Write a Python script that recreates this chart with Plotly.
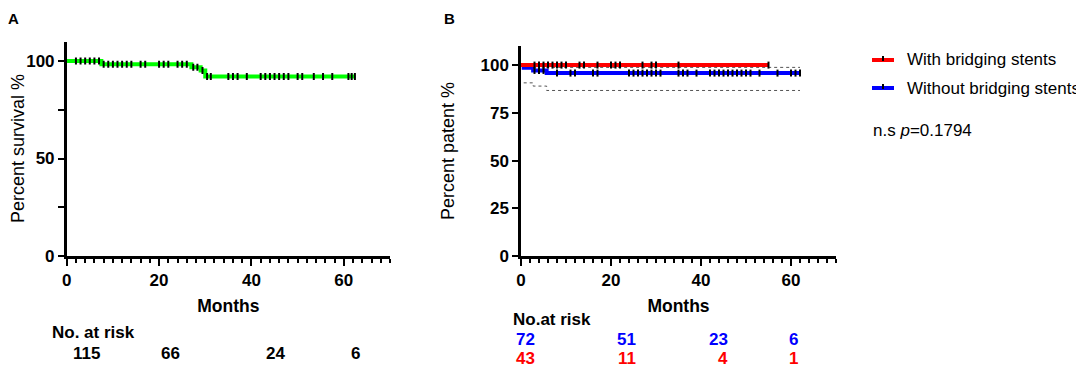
import numpy as np
import plotly.graph_objects as go

# ---------------- data ----------------
# Panel A: overall survival (Kaplan-Meier steps)
a_time = [0, 7.5, 27, 29, 30, 62.5]
a_surv = [100, 98.3, 96.8, 95.1, 92.0, 92.0]
a_cens = [2, 3, 4, 5, 6, 7, 8, 9, 10, 11, 12, 13, 14, 16, 17, 20, 21, 22,
          24, 25, 26, 27.4, 28.3, 29.4, 30.4, 31.2, 35, 36, 37, 39,
          42, 43, 44, 45, 46, 47, 48, 50, 51, 53.5, 55.5, 57.5, 61, 61.7, 62.4]

# Panel B: patency
with_time = [0, 55]
with_surv = [100, 100]
with_cens = [3, 4, 5, 6, 7, 8, 9, 10, 13, 14, 17, 20, 21, 22, 27, 29, 30, 35, 55]

without_time = [0, 0.6, 2.7, 5.7, 62]
without_surv = [100, 98.6, 97.2, 95.8, 95.8]
without_cens = [3, 4, 5, 8, 11, 12, 16, 17, 24, 25, 26, 27, 28, 29, 30, 31,
                35, 36, 37, 39, 42, 43, 44, 45, 46, 47, 48, 49, 50, 51, 53,
                57, 60, 61, 62]

ci_time = [0.6, 2.7, 5.7, 62]
ci_upper = [99.6, 99.2, 98.8, 98.8]
ci_lower = [90.7, 89.0, 86.7, 86.7]

risk_a = ["115", "66", "24", "6"]
risk_with = ["43", "11", "4", "1"]
risk_without = ["72", "51", "23", "6"]

legend_names = ["With bridging stents", "Without bridging stents"]
legend_colors = ["#ff0000", "#0000ff"]

y_ticks = [0, 25, 50, 75, 100]
y_text_a = ["0", "", "50", "", "100"]
y_text_b = ["0", "25", "50", "75", "100"]
x_ticks = [0, 20, 40, 60]

FONT = "Arial, Liberation Sans, sans-serif"


def step_value(times, values, t):
    idx = np.searchsorted(np.array(times), t, side="right") - 1
    return [values[i] for i in idx]


CENSOR = dict(symbol="line-ns", size=5, line=dict(color="black", width=2))

fig = go.Figure()

# Panel A
fig.add_trace(go.Scatter(x=a_time, y=a_surv, mode="lines", line_shape="hv",
                         line=dict(color="#00ff00", width=4), showlegend=False,
                         xaxis="x", yaxis="y"))
fig.add_trace(go.Scatter(x=a_cens, y=step_value(a_time, a_surv, a_cens), mode="markers",
                         marker=CENSOR, showlegend=False, xaxis="x", yaxis="y"))

# Panel B confidence bands (dotted)
for ci in (ci_upper, ci_lower):
    fig.add_trace(go.Scatter(x=ci_time, y=ci, mode="lines", line_shape="hv",
                             line=dict(color="#555555", width=1, dash="dot"),
                             showlegend=False, xaxis="x2", yaxis="y2"))

fig.add_trace(go.Scatter(x=without_time, y=without_surv, mode="lines", line_shape="hv",
                         line=dict(color="#0000ff", width=4), showlegend=False,
                         xaxis="x2", yaxis="y2"))
fig.add_trace(go.Scatter(x=with_time, y=with_surv, mode="lines", line_shape="hv",
                         line=dict(color="#ff0000", width=4), showlegend=False,
                         xaxis="x2", yaxis="y2"))
fig.add_trace(go.Scatter(x=without_cens, y=step_value(without_time, without_surv, without_cens),
                         mode="markers", marker=CENSOR, showlegend=False,
                         xaxis="x2", yaxis="y2"))
fig.add_trace(go.Scatter(x=with_cens, y=step_value(with_time, with_surv, with_cens),
                         mode="markers", marker=CENSOR, showlegend=False,
                         xaxis="x2", yaxis="y2"))

# page body has an 8px margin -> figure is offset by 8px
OFF = 8
W, H = 1084 - OFF, 368 - OFF


def px(x):
    return (x - OFF) / W


def py(y):
    return 1 - (y - OFF) / H


axis_common = dict(showline=True, linecolor="black", linewidth=2.5, ticks="outside",
                   ticklen=6, tickwidth=2, tickcolor="black", showgrid=False, zeroline=False,
                   automargin=False,
                   tickfont=dict(family=FONT, size=17, color="black", weight="bold"))

xaxis_common = dict(axis_common, range=[0, 70], tickvals=x_ticks, ticklen=7,
                    minor=dict(tickvals=list(range(0, 71, 2)), ticks="outside", ticklen=4,
                               tickwidth=2, tickcolor="black"),
                    title=dict(text="<b>Months</b>", font=dict(family=FONT, size=17.5, color="black"),
                               standoff=11))

fig.update_layout(
    width=W, height=H, margin=dict(l=0, r=0, t=0, b=0, autoexpand=False),
    plot_bgcolor="white", paper_bgcolor="white",
    font=dict(family=FONT, color="black"),
    showlegend=False,
    xaxis=dict(xaxis_common, domain=[px(66.7), px(390)], anchor="y"),
    yaxis=dict(axis_common, domain=[py(256), py(41.5)], range=[0, 110], tickvals=y_ticks,
               ticktext=y_text_a, anchor="x"),
    xaxis2=dict(xaxis_common, domain=[px(521), px(836)], anchor="y2"),
    yaxis2=dict(axis_common, domain=[py(256), py(46)], range=[0, 110], tickvals=y_ticks,
                ticktext=y_text_b, anchor="x2"),
)

ann = []
shapes = []
ann.append(dict(text="<b>A</b>", x=px(6), y=py(8), xanchor="left", yanchor="top",
                font=dict(family=FONT, size=15, color="black")))
ann.append(dict(text="<b>B</b>", x=px(442), y=py(8), xanchor="left", yanchor="top",
                font=dict(family=FONT, size=15, color="black")))
ann.append(dict(text="n.s <i>p</i>=0.1794", x=px(871), y=py(130), xanchor="left",
                yanchor="middle", font=dict(family=FONT, size=17, color="black")))

# y-axis titles
ann.append(dict(text="Percent survival %", x=px(18), y=py(149), textangle=-90,
                xanchor="center", yanchor="middle", font=dict(family=FONT, size=18, color="black")))
ann.append(dict(text="Percent patent %", x=px(448), y=py(151), textangle=-90,
                xanchor="center", yanchor="middle", font=dict(family=FONT, size=18, color="black")))

# manual legend
for i, (name, col) in enumerate(zip(legend_names, legend_colors)):
    yy = 60 + 28 * i
    shapes.append(dict(type="line", xref="paper", yref="paper", x0=px(872), x1=px(894),
                       y0=py(yy), y1=py(yy), line=dict(color=col, width=4)))
    shapes.append(dict(type="line", xref="paper", yref="paper", x0=px(883), x1=px(883),
                       y0=py(yy - 4), y1=py(yy + 1), line=dict(color="black", width=2)))
    ann.append(dict(text=name, x=px(905), y=py(yy), xanchor="left", yanchor="middle",
                    font=dict(family=FONT, size=17, color="black")))

# at-risk tables
ann.append(dict(text="<b>No. at risk</b>", x=px(50), y=py(332), xanchor="left", yanchor="middle"))
for lab, cx in zip(risk_a, [86, 170, 275, 355]):
    ann.append(dict(text=f"<b>{lab}</b>", x=px(cx), y=py(353), xanchor="center", yanchor="middle"))

ann.append(dict(text="<b>No.at risk</b>", x=px(511), y=py(319), xanchor="left", yanchor="middle"))
for lab, rx in zip(risk_without, [537, 638, 730, 800]):
    ann.append(dict(text=f"<b>{lab}</b>", x=px(rx), y=py(339), xanchor="right", yanchor="middle",
                    font=dict(family=FONT, size=17, color="#0000ff")))
for lab, rx in zip(risk_with, [537, 638, 730, 800]):
    ann.append(dict(text=f"<b>{lab}</b>", x=px(rx), y=py(358), xanchor="right", yanchor="middle",
                    font=dict(family=FONT, size=17, color="#ff0000")))

for a in ann:
    a.setdefault("font", dict(family=FONT, size=17, color="black"))
    a.update(xref="paper", yref="paper", showarrow=False)
fig.update_layout(annotations=ann, shapes=shapes)

fig.write_html("out.html")
